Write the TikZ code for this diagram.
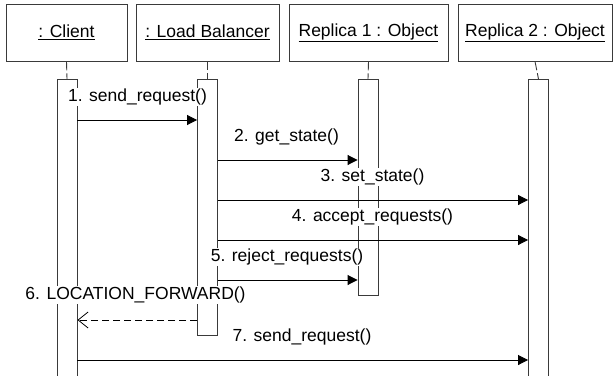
\documentclass[tikz,border=0pt]{standalone}
\usepackage{fontspec}
\setmainfont{Liberation Sans}
\usetikzlibrary{arrows.meta}
\definecolor{ln}{HTML}{3A3A3A}
\begin{document}
\begin{tikzpicture}[x=1pt,y=-1pt,
  every node/.style={font=\fontsize{17.5}{20}\selectfont, text=black},
  hdr/.style={draw=ln, line width=0.9pt, minimum height=57pt, inner sep=0pt},
  bar/.style={draw=ln, fill=white, line width=0.9pt, minimum width=20pt, inner sep=0pt, anchor=north},
  life/.style={draw=ln, line width=0.9pt, dash pattern=on 9pt off 3pt},
  msg/.style={draw=black, line width=0.9pt, -{Triangle[length=10pt,width=10pt]}},
  ret/.style={draw=black, line width=0.8pt, dash pattern=on 7pt off 4pt, -{Straight Barb[length=10pt,width=16pt,line width=0.8pt]}},
  lbl/.style={fill=white, inner sep=1pt}]
\clip (0,0) rectangle (613,375);
\fill[white] (0,0) rectangle (613,375);
% headers
\node[hdr, minimum width=121pt] (client) at (66.5,32.5) {\underline{: Client}};
\node[hdr, minimum width=143pt] (lb) at (207.5,32.5) {\underline{: Load Balancer}};
\node[hdr, minimum width=159pt] (r1) at (368.5,32.5) {\underline{Replica 1 : Object}};
\node[hdr, minimum width=154pt] (r2) at (535,32.5) {\underline{Replica 2 : Object}};
% activation bars
\node[bar, minimum height=310pt] (cbar) at (67,79) {};
\node[bar, minimum height=256pt] (lbar) at (207.5,79) {};
\node[bar, minimum height=216pt] (r1bar) at (368,79) {};
\node[bar, minimum height=310pt] (r2bar) at (538.5,79) {};
% lifelines
\draw[life] (client.south) -- (cbar.north);
\draw[life] (lb.south) -- (lbar.north);
\draw[life] (r1.south) -- (r1bar.north);
\draw[life] (r2.south) -- (r2bar.north);
% messages
\draw[msg] (cbar.east |- 0,120) -- (lbar.west |- 0,120);
\draw[msg] (lbar.east |- 0,160) -- (r1bar.west |- 0,160);
\draw[msg] (lbar.east |- 0,200) -- (r2bar.west |- 0,200);
\draw[msg] (lbar.east |- 0,240) -- (r2bar.west |- 0,240);
\draw[msg] (lbar.east |- 0,280) -- (r1bar.west |- 0,280);
\draw[ret] (lbar.west |- 0,320) -- (cbar.east |- 0,320);
\draw[msg] (cbar.east |- 0,360) -- (r2bar.west |- 0,360);
% labels
\node[lbl] (m1) at (137.5,97) {1. send\_request()};
\node[lbl] (m2) at (286.5,137) {2. get\_state()};
\node[lbl] (m3) at (372.5,177) {3. set\_state()};
\node[lbl] (m4) at (372.5,217) {4. accept\_requests()};
\node[lbl] (m5) at (287,257) {5. reject\_requests()};
\node[lbl] (m6) at (135.5,295) {6. LOCATION\_FORWARD()};
\node[lbl] (m7) at (302,337) {7. send\_request()};
\end{tikzpicture}
\end{document}
